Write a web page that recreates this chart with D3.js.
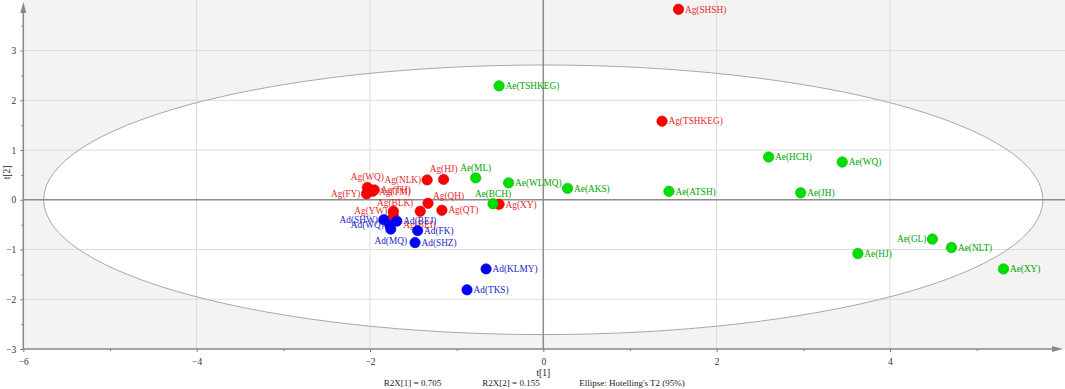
<!DOCTYPE html>
<html>
<head>
<meta charset="utf-8">
<script src="https://cdn.jsdelivr.net/npm/d3@7"></script>
<style>
  body { margin: 0; background: #fff; }
  svg text { font-family: "Liberation Serif", "Times New Roman", serif; }
</style>
</head>
<body>
<script>
// scores t[1], t[2]
const agPoints = [
    ["Ag(SHSH)", 1.56, 3.83],
    ["Ag(TSHKEG)", 1.37, 1.58],
    ["Ag(XY)", -0.51, -0.09],
    ["Ag(HJ)", -1.15, 0.41],
    ["Ag(NLK)", -1.34, 0.40],
    ["Ag(QH)", -1.33, -0.07],
    ["Ag(QT)", -1.17, -0.21],
    ["Ag(BLK)", -1.42, -0.23],
    ["Ag(YW)", -1.73, -0.23],
    ["Ag(BEI)", -1.73, -0.32],
    ["Ag(WQ)", -2.03, 0.25],
    ["Ag(TH)", -1.95, 0.20],
    ["Ag(TM)", -1.97, 0.17],
    ["Ag(FY)", -2.04, 0.12]
];
const aePoints = [
    ["Ae(TSHKEG)", -0.51, 2.29],
    ["Ae(ML)", -0.78, 0.44],
    ["Ae(WLMQ)", -0.40, 0.34],
    ["Ae(AKS)", 0.28, 0.23],
    ["Ae(BCH)", -0.58, -0.08],
    ["Ae(ATSH)", 1.45, 0.17],
    ["Ae(HCH)", 2.60, 0.86],
    ["Ae(WQ)", 3.45, 0.76],
    ["Ae(JH)", 2.97, 0.14],
    ["Ae(GL)", 4.49, -0.79],
    ["Ae(HJ)", 3.63, -1.08],
    ["Ae(NLT)", 4.71, -0.96],
    ["Ae(XY)", 5.31, -1.39]
];
const adPoints = [
    ["Ad(SHW)", -1.84, -0.40],
    ["Ad(WQ)", -1.77, -0.51],
    ["Ad(BEJ)", -1.69, -0.43],
    ["Ad(MQ)", -1.76, -0.59],
    ["Ad(FK)", -1.45, -0.62],
    ["Ad(SHZ)", -1.48, -0.86],
    ["Ad(KLMY)", -0.66, -1.39],
    ["Ad(TKS)", -0.88, -1.81]
];
const xTicks = [-6, -4, -2, 0, 2, 4];
const yTicks = [-3, -2, -1, 0, 1, 2, 3];
const ellipseAxes = [5.765, 2.71]; // Hotelling's T2 (95%)
const footnotes = ["R2X[1] = 0.705", "R2X[2] = 0.155", "Ellipse: Hotelling's T2 (95%)"];

// where each label sits relative to its point (default: right)
const labelSide = {
    "Ae(GL)": "l", "Ag(NLK)": "l", "Ag(FY)": "l", "Ag(YW)": "l",
    "Ad(SHW)": "l", "Ad(WQ)": "l",
    "Ae(ML)": "t", "Ae(BCH)": "t", "Ag(HJ)": "t", "Ag(WQ)": "t",
    "Ag(QH)": "tr", "Ag(BLK)": "tl", "Ag(BEI)": "br", "Ad(MQ)": "b"
};

const width = 1065, height = 389;
const svg = d3.select("body").append("svg")
    .attr("width", width)
    .attr("height", height);

const x = d3.scaleLinear().domain([-6, 5.87]).range([23.3, 1052]);
const y = d3.scaleLinear().domain([-3, 3.95]).range([349, 3.3]);

// grey plot background
svg.append("rect")
    .attr("x", x(-6)).attr("y", 0)
    .attr("width", width - x(-6)).attr("height", y(-3))
    .attr("fill", "#f3f3f3");

// white ellipse interior
const ell = svg.append("ellipse")
    .attr("cx", x(0)).attr("cy", y(0))
    .attr("rx", x(ellipseAxes[0]) - x(0))
    .attr("ry", y(0) - y(ellipseAxes[1]));
ell.attr("fill", "#fff");

// grid lines
svg.selectAll(".hgrid")
    .data(yTicks.filter(d => d !== 0 && d !== -3))
    .enter().append("line")
    .attr("x1", x(-6)).attr("x2", width)
    .attr("y1", d => y(d)).attr("y2", d => y(d))
    .attr("stroke", "#dcdcdc").attr("stroke-width", 1);

svg.selectAll(".vgrid")
    .data(xTicks.filter(d => d !== 0 && d !== -6))
    .enter().append("line")
    .attr("x1", d => x(d)).attr("x2", d => x(d))
    .attr("y1", 0).attr("y2", y(-3))
    .attr("stroke", "#dcdcdc").attr("stroke-width", 1);

// ellipse outline
svg.append("ellipse")
    .attr("cx", x(0)).attr("cy", y(0))
    .attr("rx", x(ellipseAxes[0]) - x(0))
    .attr("ry", y(0) - y(ellipseAxes[1]))
    .attr("fill", "none")
    .attr("stroke", "#a8a8a8").attr("stroke-width", 1);

// zero lines
svg.append("line")
    .attr("x1", x(-6)).attr("x2", width)
    .attr("y1", y(0)).attr("y2", y(0))
    .attr("stroke", "#8c8c8c").attr("stroke-width", 1.5);
svg.append("line")
    .attr("x1", x(0)).attr("x2", x(0))
    .attr("y1", 0).attr("y2", y(-3))
    .attr("stroke", "#8c8c8c").attr("stroke-width", 1.5);

// axes
const xAxis = svg.append("g")
    .attr("transform", `translate(0,${y(-3)})`)
    .call(d3.axisBottom(x).tickValues(xTicks).tickSize(3).tickPadding(6).tickFormat(d3.format("d")));
svg.append("g")
    .attr("transform", `translate(0,${y(-3)})`)
    .call(d3.axisBottom(x).tickValues([-5, -3, -1, 1, 3, 5]).tickSize(2).tickFormat(""))
    .select(".domain").remove();

const yAxis = svg.append("g")
    .attr("transform", `translate(${x(-6)},0)`)
    .call(d3.axisLeft(y).tickValues(yTicks).tickSize(3).tickPadding(4).tickFormat(d3.format("d")));
svg.append("g")
    .attr("transform", `translate(${x(-6)},0)`)
    .call(d3.axisLeft(y).tickValues([-2.5, -1.5, -0.5, 0.5, 1.5, 2.5, 3.5]).tickSize(2).tickFormat(""))
    .select(".domain").remove();

svg.selectAll(".domain").remove();
svg.selectAll(".tick line").attr("stroke", "#777");
svg.selectAll(".tick text")
    .attr("fill", "#333")
    .style("font-size", "9.5px")
    .style("font-family", "'Liberation Serif', serif");

// axis lines with arrow heads
svg.append("line")
    .attr("x1", x(-6)).attr("x2", 1053)
    .attr("y1", y(-3)).attr("y2", y(-3))
    .attr("stroke", "#888").attr("stroke-width", 1.5);
svg.append("path")
    .attr("d", `M1052,${y(-3) - 3}L1063,${y(-3)}L1052,${y(-3) + 3}Z`)
    .attr("fill", "#888");
svg.append("line")
    .attr("x1", x(-6)).attr("x2", x(-6))
    .attr("y1", 12).attr("y2", y(-3))
    .attr("stroke", "#888").attr("stroke-width", 1.5);
svg.append("path")
    .attr("d", `M${x(-6) - 3},13L${x(-6)},2L${x(-6) + 3},13Z`)
    .attr("fill", "#888");

// axis titles
svg.append("text")
    .attr("x", x(0)).attr("y", 375.5)
    .attr("text-anchor", "middle")
    .style("font-size", "9.5px").attr("fill", "#222")
    .text("t[1]");
svg.append("text")
    .attr("transform", `translate(10,${y(0.55)}) rotate(-90)`)
    .attr("text-anchor", "middle")
    .style("font-size", "9.5px").attr("fill", "#222")
    .text("t[2]");

// footnotes
const footX = [412.5, 511, 632];
svg.selectAll(".foot")
    .data(footnotes)
    .enter().append("text")
    .attr("x", (d, i) => footX[i]).attr("y", 386)
    .attr("text-anchor", "middle")
    .style("font-size", "9px").attr("fill", "#222")
    .text(d => d);

// points
function labelPos(name, px, py) {
    const s = labelSide[name] || "r";
    if (s === "l") return [px - 6, py, "end"];
    if (s === "t") return [px, py - 10.5, "middle"];
    if (s === "b") return [px, py + 11.5, "middle"];
    if (s === "tr") return [px + 5, py - 8, "start"];
    if (s === "tl") return [px - 7, py - 8, "end"];
    if (s === "br") return [px + 10, py + 9, "start"];
    return [px + 6.5, py, "start"];
}

function drawGroup(data, fill, edge, textColor) {
    const g = svg.append("g");
    g.selectAll("circle")
        .data(data)
        .enter().append("circle")
        .attr("cx", d => x(d[1]))
        .attr("cy", d => y(d[2]))
        .attr("r", 5.2)
        .attr("fill", fill)
        .attr("stroke", edge)
        .attr("stroke-width", 0.6);
    g.selectAll("text")
        .data(data)
        .enter().append("text")
        .each(function(d) {
            const p = labelPos(d[0], x(d[1]), y(d[2]));
            d3.select(this)
                .attr("x", p[0]).attr("y", p[1])
                .attr("dy", "0.35em")
                .attr("text-anchor", p[2]);
        })
        .style("font-size", "9.3px")
        .attr("fill", textColor)
        .text(d => d[0]);
}

drawGroup(agPoints, "#ff0000", "#c80000", "#e4262b");
drawGroup(aePoints, "#00e000", "#00a800", "#00a300");
drawGroup(adPoints, "#0000ff", "#0000b8", "#1e1ec8");
</script>
</body>
</html>
